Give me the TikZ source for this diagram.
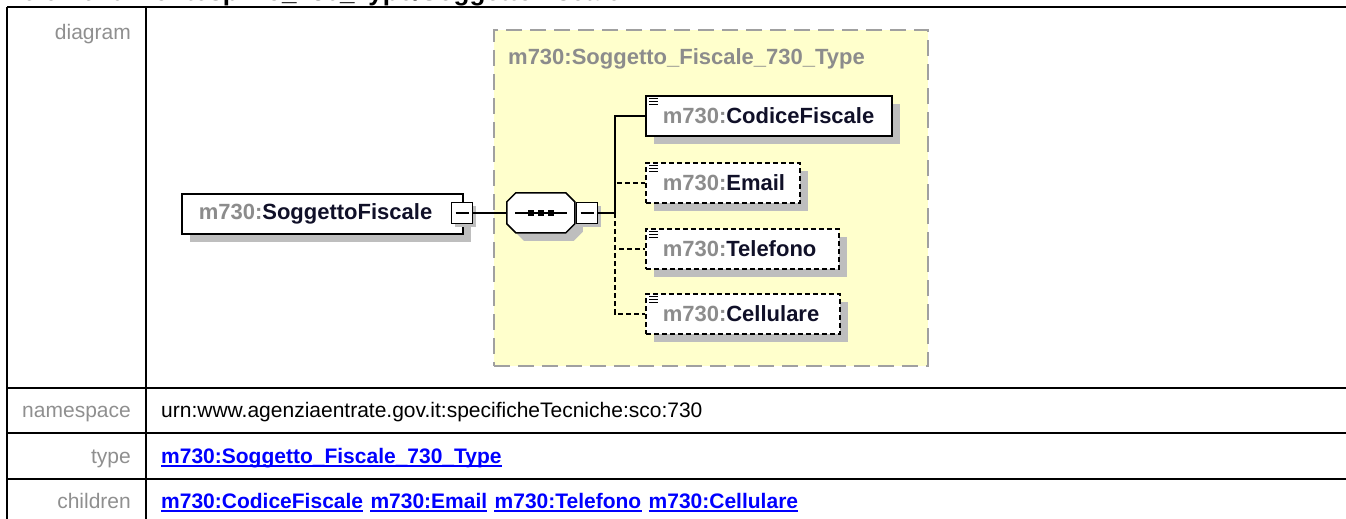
\documentclass[tikz,border=0pt]{standalone}
\usepackage{fontspec}
\setmainfont{Liberation Sans}
\usetikzlibrary{positioning, shadows}
\definecolor{grid-line}{HTML}{000000}
\definecolor{label-gray}{HTML}{8F8F8F}
\definecolor{link-blue}{HTML}{0000FF}
\definecolor{type-fill}{HTML}{FFFFCC}
\definecolor{type-border}{HTML}{A0A0A0}
\definecolor{shadow-gray}{HTML}{BEBEBE}
\definecolor{prefix-gray}{HTML}{8C8C8C}
\definecolor{name-dark}{HTML}{101028}
\newcommand{\elpfx}[1]{{\bfseries\color{prefix-gray}#1}}
\newcommand{\elname}[1]{{\bfseries\color{name-dark}#1}}
\tikzset{
  grid/.style={draw=grid-line, line width=2.2pt},
  row-label/.style={anchor=base east, text=label-gray, inner sep=0pt,
    font=\fontsize{21}{25}\selectfont},
  row-value/.style={anchor=base west, inner sep=0pt, font=\fontsize{21}{25}\selectfont},
  row-link/.style={row-value, text=link-blue, font=\fontsize{21}{25}\selectfont\bfseries},
  link-line/.style={draw=link-blue, line width=1.8pt},
  elem-box/.style={
    rectangle, draw=black, fill=white, line width=1.5pt, anchor=north west,
    minimum height=40pt, inner xsep=17pt, inner ysep=0pt, align=left,
    font=\fontsize{22}{26}\selectfont,
    drop shadow={shadow xshift=8pt, shadow yshift=-8pt, fill=shadow-gray, opacity=1}
  },
  elem-opt/.style={elem-box, dash pattern=on 5pt off 3pt},
  minus-box/.style={
    rectangle, draw=black, fill=white, line width=1.5pt,
    minimum size=21pt, inner sep=0pt,
    drop shadow={shadow xshift=3pt, shadow yshift=-3pt, fill=shadow-gray, opacity=1}
  },
  seq-box/.style={rectangle, minimum width=68pt, minimum height=40pt, inner sep=0pt},
  seq-outline/.style={draw=black, fill=white, line width=1.5pt},
  type-box/.style={
    rectangle, draw=type-border, fill=type-fill, line width=2pt,
    dash pattern=on 16pt off 8pt, anchor=north west, inner sep=0pt
  },
  conn/.style={draw=black, line width=1.5pt},
  conn-opt/.style={conn, dash pattern=on 5pt off 3pt}
}
\begin{document}
\begin{tikzpicture}[x=1pt, y=-1pt]
  \useasboundingbox (0,0) rectangle (1346,519);
  \clip (0,0) rectangle (1346,519);

  % Heading (cut at the top)
  \node[anchor=base west, inner sep=0pt, font=\fontsize{26}{30}\selectfont\bfseries]
    (heading) at (22,1) {element Frontespizio\_730\_Type/SoggettoFiscale};

  % Table grid
  \draw[grid] (7,7) -- (1346,7);
  \draw[grid] (7,388) -- (1346,388);
  \draw[grid] (7,433) -- (1346,433);
  \draw[grid] (7,479) -- (1346,479);
  \draw[grid] (7,7) -- (7,519);
  \draw[grid] (146,7) -- (146,519);

  % Row labels
  \node[row-label] (lbl-diagram)   at (131,40)  {diagram};
  \node[row-label] (lbl-namespace) at (131,417) {namespace};
  \node[row-label] (lbl-type)      at (131,463) {type};
  \node[row-label] (lbl-children)  at (131,508) {children};

  % Row values
  \node[row-value] (ns-value) at (161,417) {urn:www.agenziaentrate.gov.it:specificheTecniche:sco:730};
  \node[row-link] (type-link) at (161,463) {m730:Soggetto\_Fiscale\_730\_Type};
  \node[row-link] (ch-codice) at (161,508) {m730:CodiceFiscale};
  \node[row-link, base right=7pt of ch-codice] (ch-email) {m730:Email};
  \node[row-link, base right=7pt of ch-email] (ch-telefono) {m730:Telefono};
  \node[row-link, base right=7pt of ch-telefono] (ch-cellulare) {m730:Cellulare};
  \foreach \n in {type-link, ch-codice, ch-email, ch-telefono, ch-cellulare}
    \draw[link-line] ([yshift=-3pt]\n.base west) -- ([yshift=-3pt]\n.base east);

  % Complex type container
  \node[type-box, minimum width=434pt, minimum height=336pt] (type-area) at (493,29) {};
  \node[anchor=base west, inner sep=0pt, text=prefix-gray,
    font=\fontsize{22}{26}\selectfont\bfseries] (type-title) at (508,64)
    {m730:Soggetto\_Fiscale\_730\_Type};

  % Element and sequence
  \node[elem-box, text width=247pt] (soggetto) at (181,193) {\elpfx{m730:}\elname{SoggettoFiscale}};
  \node[minus-box] (soggetto-minus) at (462,213) {\rule{13pt}{1.6pt}};
  \node[seq-box] (seq) at (541,213) {};
  \fill[shadow-gray] ([shift={(17,8)}]seq.north west) -- ++(50,0) -- ++(9,9) -- ++(0,22)
    -- ++(-9,9) -- ++(-50,0) -- ++(-9,-9) -- ++(0,-22) -- cycle;
  \path[seq-outline] ([shift={(9,0)}]seq.north west) -- ++(50,0) -- ++(9,9) -- ++(0,22)
    -- ++(-9,9) -- ++(-50,0) -- ++(-9,-9) -- ++(0,-22) -- cycle;
  \draw[line width=1.5pt] ([xshift=-26pt]seq.center) -- ([xshift=26pt]seq.center);
  \foreach \dx in {-10,0,10}
    \fill ([shift={(\dx,0)}]seq.center) +(-3,-3) rectangle +(3,3);
  \node[minus-box] (seq-minus) at (587,213) {\rule{13pt}{1.6pt}};

  % Children
  \node[elem-box, text width=212pt] (codice)    at (645,95)  {\elpfx{m730:}\elname{CodiceFiscale}};
  \node[elem-opt, text width=120pt] (email)     at (645,162) {\elpfx{m730:}\elname{Email}};
  \node[elem-opt, text width=159pt] (telefono)  at (645,228) {\elpfx{m730:}\elname{Telefono}};
  \node[elem-opt, text width=160pt] (cellulare) at (645,293) {\elpfx{m730:}\elname{Cellulare}};
  \foreach \n in {codice, email, telefono, cellulare}
    \foreach \dy in {3,6,9}
      \draw[line width=1pt] ([shift={(4,\dy)}]\n.north west) -- ++(9,0);

  % Connectors
  \coordinate (spine) at (615,213);
  \draw[conn] (soggetto-minus.east) -- (seq.west);
  \draw[conn] (seq-minus.east) -- (spine);
  \draw[conn] (codice.west) -| (spine);
  \draw[conn-opt] (spine) |- (email.west);
  \draw[conn-opt] (spine) |- (telefono.west);
  \draw[conn-opt] (spine) |- (cellulare.west);
\end{tikzpicture}
\end{document}
